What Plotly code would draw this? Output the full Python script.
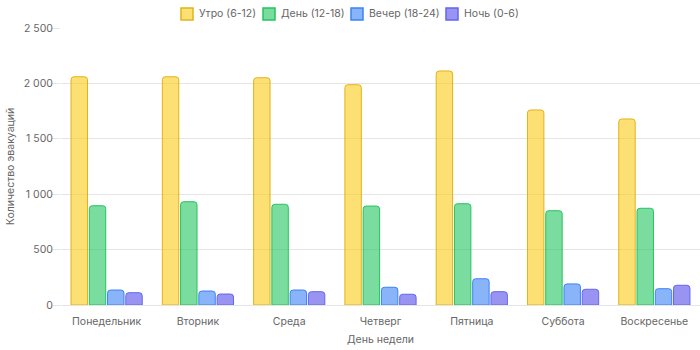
import plotly.graph_objects as go

days = ["Понедельник", "Вторник", "Среда", "Четверг", "Пятница", "Суббота", "Воскресенье"]
series_names = ["Утро (6-12)", "День (12-18)", "Вечер (18-24)", "Ночь (0-6)"]
morning = [2060, 2060, 2051, 1988, 2112, 1760, 1679]
day = [896, 932, 909, 893, 914, 851, 873]
evening = [135, 126, 135, 160, 237, 190, 147]
night = [111, 99, 120, 97, 120, 142, 178]
y_ticks = [0, 500, 1000, 1500, 2000, 2500]

fills = ["rgba(250,204,21,0.6)", "rgba(34,197,94,0.6)", "rgba(59,130,246,0.6)", "rgba(99,90,235,0.65)"]
borders = ["#E2B21A", "#22C55E", "#3B82F6", "#6366F1"]

W, H = 700, 350
M = dict(l=61, r=0, t=28, b=45)
# legend layout (pixel positions of each entry's box left edge)
legend_px = [181, 263, 351, 446]
box = 12
legend_top = 8

fig = go.Figure()
for name, vals, f, b in zip(series_names, [morning, day, evening, night], fills, borders):
    fig.add_trace(go.Bar(
        x=days, y=vals, name=name, showlegend=False,
        marker=dict(color=f, line=dict(color=b, width=1), cornerradius=3),
        hoverinfo="x+y+name",
    ))

pw = W - M["l"] - M["r"]
ph = H - M["t"] - M["b"]
def px_to_paper_x(px):
    return (px - M["l"]) / pw
def px_to_paper_y(py):
    return (H - M["b"] - py) / ph

font_fam = "Inter, 'Noto Sans', sans-serif"
fs = 10.5
shapes, annots = [], []
for name, f, b, lx in zip(series_names, fills, borders, legend_px):
    shapes.append(dict(type="rect", xref="paper", yref="paper",
                       x0=px_to_paper_x(lx), x1=px_to_paper_x(lx + box),
                       y0=px_to_paper_y(legend_top + box), y1=px_to_paper_y(legend_top),
                       fillcolor=f, line=dict(color=b, width=1.5)))
    annots.append(dict(text=name, xref="paper", yref="paper",
                       x=px_to_paper_x(lx + box + 4), y=px_to_paper_y(legend_top + box / 2),
                       xanchor="left", yanchor="middle", showarrow=False,
                       font=dict(size=fs, color="#666", family=font_fam)))

fig.update_layout(
    width=W, height=H,
    margin=M,
    paper_bgcolor="white", plot_bgcolor="white",
    barmode="group", bargap=0.2, bargroupgap=0.1,
    separators=", ",
    font=dict(family=font_fam, size=fs, color="#666"),
    showlegend=False,
    shapes=shapes, annotations=annots,
    xaxis=dict(
        showgrid=False, showline=True, linecolor="#e5e5e5", linewidth=1,
        ticks="outside", ticklen=6, tickcolor="rgba(0,0,0,0)",
        tickfont=dict(size=fs, color="#666"),
        title=dict(text="День недели", font=dict(size=fs, color="#666"), standoff=9),
    ),
    yaxis=dict(
        range=[0, 2500], tickvals=y_ticks, tickformat=",d",
        showgrid=True, gridcolor="#e5e5e5", gridwidth=1,
        ticks="outside", ticklen=8, tickcolor="#e5e5e5",
        ticklabelstandoff=-3,
        tickfont=dict(size=fs, color="#666"),
        zeroline=False, showline=False,
        title=dict(text="Количество эвакуаций", font=dict(size=fs, color="#666"), standoff=6),
    ),
)

fig.write_html("out.html")
